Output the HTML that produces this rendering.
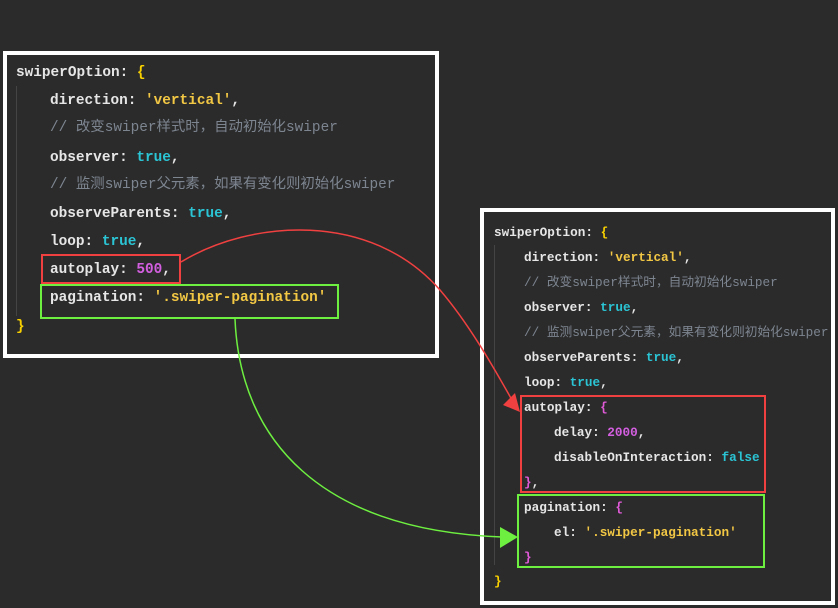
<!DOCTYPE html>
<html><head><meta charset="utf-8"><style>
body{margin:0;width:838px;height:608px;background:#2b2b2b;position:relative;overflow:hidden;font-family:"Liberation Mono","Noto Sans CJK SC",monospace;}
.box{position:absolute;border:4px solid #fff;background:#2b2b2b;box-sizing:border-box}
.t{position:absolute;white-space:pre;color:#e6e6e6;font-weight:bold;line-height:1}
.L .t{font-size:14.4px}
.R .t{font-size:12.7px}
.s{color:#f2c744}.b{color:#f8d000}.k{color:#2bc4d4}.n{color:#d35fe0}.c{color:#7d8590;font-weight:normal}.p{color:#e05ad8}
.r{position:absolute;border:2px solid #f04040;box-sizing:border-box}
.g{position:absolute;border:2px solid #6ef040;box-sizing:border-box}
.vl{position:absolute;width:1px;background:#444}
</style></head><body>
<div class="box" style="left:3px;top:51px;width:436px;height:307px"></div>
<div class="L">
<div class="vl" style="left:16px;top:86px;height:230px"></div>
<div class="t" style="left:16px;top:66px">swiperOption: <span class="b">{</span></div>
<div class="t" style="left:50px;top:94px">direction: <span class="s">'vertical'</span>,</div>
<div class="t c" style="left:50px;top:121px">// 改变swiper样式时，自动初始化swiper</div>
<div class="t" style="left:50px;top:151px">observer: <span class="k">true</span>,</div>
<div class="t c" style="left:50px;top:178px">// 监测swiper父元素，如果有变化则初始化swiper</div>
<div class="t" style="left:50px;top:207px">observeParents: <span class="k">true</span>,</div>
<div class="t" style="left:50px;top:235px">loop: <span class="k">true</span>,</div>
<div class="t" style="left:50px;top:263px">autoplay: <span class="n">500</span>,</div>
<div class="t" style="left:50px;top:291px">pagination: <span class="s">'.swiper-pagination'</span></div>
<div class="t b" style="left:16px;top:320px">}</div>
</div>
<div class="r" style="left:41px;top:254px;width:140px;height:30px"></div>
<div class="g" style="left:40px;top:284px;width:299px;height:35px"></div>

<div class="box" style="left:480px;top:208px;width:355px;height:397px"></div>
<div class="R">
<div class="vl" style="left:494px;top:245px;height:320px"></div>
<div class="t" style="left:494px;top:227px">swiperOption: <span class="b">{</span></div>
<div class="t" style="left:524px;top:252px">direction: <span class="s">'vertical'</span>,</div>
<div class="t c" style="left:524px;top:277px">// 改变swiper样式时，自动初始化swiper</div>
<div class="t" style="left:524px;top:302px">observer: <span class="k">true</span>,</div>
<div class="t c" style="left:524px;top:327px">// 监测swiper父元素，如果有变化则初始化swiper</div>
<div class="t" style="left:524px;top:352px">observeParents: <span class="k">true</span>,</div>
<div class="t" style="left:524px;top:377px">loop: <span class="k">true</span>,</div>
<div class="t" style="left:524px;top:402px">autoplay: <span class="p">{</span></div>
<div class="t" style="left:554px;top:427px">delay: <span class="n">2000</span>,</div>
<div class="t" style="left:554px;top:452px">disableOnInteraction: <span class="k">false</span></div>
<div class="t" style="left:524px;top:477px"><span class="p">}</span>,</div>
<div class="t" style="left:524px;top:502px">pagination: <span class="p">{</span></div>
<div class="t" style="left:554px;top:527px">el: <span class="s">'.swiper-pagination'</span></div>
<div class="t p" style="left:524px;top:552px">}</div>
<div class="t b" style="left:494px;top:576px">}</div>
</div>
<div class="r" style="left:520px;top:395px;width:246px;height:98px"></div>
<div class="g" style="left:517px;top:494px;width:248px;height:74px"></div>

<svg width="838" height="608" style="position:absolute;left:0;top:0">
<path d="M181,262 C250,220 370,210 440,290 C470,325 495,370 512,400" fill="none" stroke="#f04040" stroke-width="1.5"/>
<polygon points="520,412 503,405 515,393" fill="#f04040"/>
<path d="M235,319 C240,440 320,530 502,537" fill="none" stroke="#6ef040" stroke-width="1.5"/>
<polygon points="518,537 500,527 500,548" fill="#6ef040"/>
</svg>
</body></html>
